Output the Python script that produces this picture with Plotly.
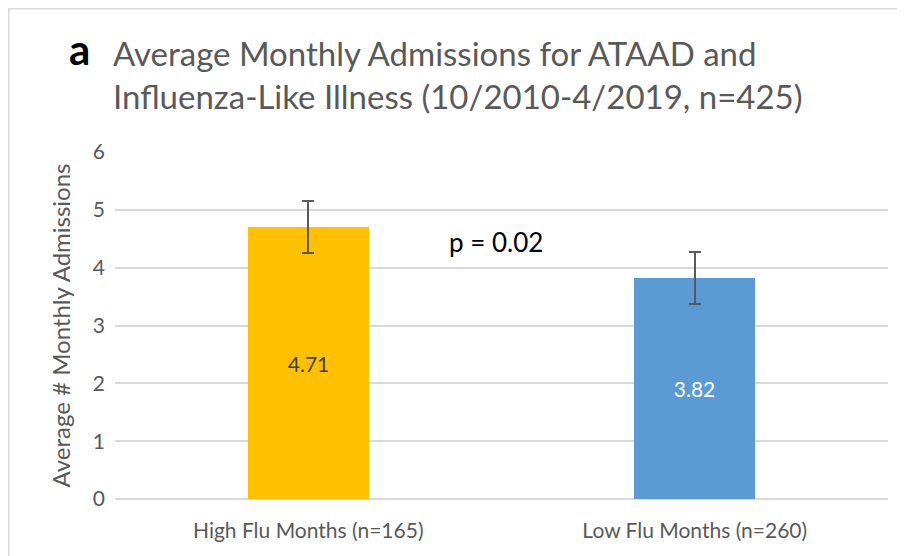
import plotly.graph_objects as go

categories = ["High Flu Months (n=165)", "Low Flu Months (n=260)"]
values = [4.71, 3.82]
errors = [0.45, 0.45]
colors = ["#FFC000", "#5B9BD5"]
label_colors = ["#404040", "#FFFFFF"]
label_texts = ["4.71", "3.82"]
y_ticks = [0, 1, 2, 3, 4, 5, 6]

FONT = "Lato"
GRAY = "#595959"

# page body adds an 8px offset; work in reference pixels and shift
OFF = 8
W, H = 905 - OFF, 556 - OFF
L = 115 - OFF
R = W - (888 - OFF)
T = 152 - OFF
B = H - (499 - OFF)
pw, ph = W - L - R, H - T - B

def px_x(px):
    return (px - OFF - L) / pw

def px_y(py):
    return (H - B - (py - OFF)) / ph

fig = go.Figure()
fig.add_trace(go.Bar(
    x=categories, y=values,
    marker=dict(color=colors, line=dict(width=0)),
    width=0.313,
    text=label_texts,
    textposition="inside",
    insidetextanchor="middle",
    textangle=0,
    textfont=dict(family=FONT, size=21, color=label_colors),
    error_y=dict(type="data", array=errors, visible=True, color=GRAY, thickness=2, width=6),
    hoverinfo="skip",
))

fig.update_layout(
    width=W, height=H,
    margin=dict(l=L, r=R, t=T, b=B),
    paper_bgcolor="white", plot_bgcolor="white",
    showlegend=False,
    bargap=0,
    xaxis=dict(showgrid=False, showline=False, ticks="", zeroline=False,
               ticklabelstandoff=17,
               tickfont=dict(family=FONT, size=21, color=GRAY)),
    yaxis=dict(range=[0, 6], tickvals=y_ticks, showgrid=True, gridcolor="#D9D9D9", gridwidth=1.5,
               zeroline=True, zerolinecolor="#D9D9D9", zerolinewidth=1.5, showline=False,
               ticks="", ticklen=0, ticklabelstandoff=9,
               tickfont=dict(family=FONT, size=21, color=GRAY),
               title=dict(text="Average # Monthly Admissions", standoff=15,
                          font=dict(family=FONT, size=24, color=GRAY))),
    shapes=[
        dict(type="line", xref="paper", yref="paper", x0=px_x(8.5), x1=px_x(8.5), y0=px_y(570), y1=px_y(8.5),
             line=dict(color="#D9D9D9", width=2)),
        dict(type="line", xref="paper", yref="paper", x0=px_x(8.5), x1=px_x(920), y0=px_y(8.5), y1=px_y(8.5),
             line=dict(color="#D9D9D9", width=2)),
    ],
    annotations=[
        dict(text="<b>a</b>", xref="paper", yref="paper", x=px_x(79), y=px_y(49), xanchor="center", yanchor="middle",
             showarrow=False, font=dict(family=FONT, size=42, color="#000000")),
        dict(text="Average Monthly Admissions for ATAAD and<br>Influenza-Like Illness (10/2010-4/2019, n=425)",
             xref="paper", yref="paper", x=px_x(111), y=px_y(74), xanchor="left", yanchor="middle", align="left",
             showarrow=False, font=dict(family=FONT, size=33, color=GRAY)),
        dict(text="p = 0.02", xref="paper", yref="paper", x=px_x(496), y=px_y(242), xanchor="center", yanchor="middle",
             showarrow=False, font=dict(family=FONT, size=26, color="#000000")),
    ],
)

fig.write_html("out.html")
